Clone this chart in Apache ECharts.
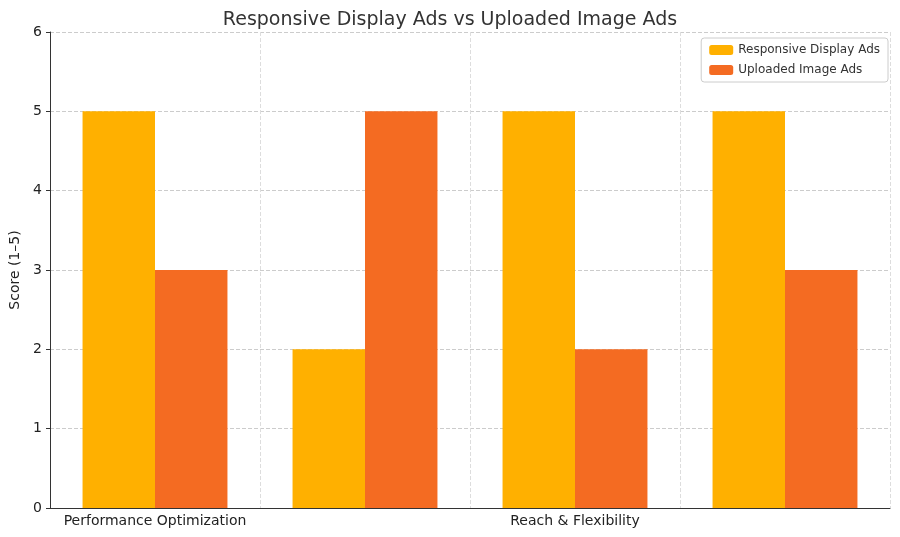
<!DOCTYPE html>
<html><head><meta charset="utf-8">
<script src="https://cdn.jsdelivr.net/npm/echarts@6/dist/echarts.min.js"></script>
<style>html,body{margin:0;padding:0;background:#fff}#c{width:900px;height:537px}</style>
</head><body><div id="c"></div>
<script>
const categories = ["Performance Optimization","Design Control","Reach & Flexibility","Ease of Setup"];
const responsive = [5,2,5,5];
const uploaded = [3,5,2,3];
const seriesNames = ["Responsive Display Ads","Uploaded Image Ads"];
const chart = echarts.init(document.getElementById('c'));
const font = "DejaVu Sans";
chart.setOption({
  animation:false,
  title:{text:"Responsive Display Ads vs Uploaded Image Ads",left:'center',top:6,textStyle:{fontFamily:font,fontSize:19,fontWeight:'normal',color:'#333'}},
  legend:{top:38,right:12,orient:'vertical',itemWidth:24,itemHeight:10,itemGap:8,borderColor:'#ccc',borderWidth:1,borderRadius:3,padding:[6,8],
    textStyle:{fontFamily:font,fontSize:12,color:'#333'},data:seriesNames},
  grid:{left:44,right:10,top:32,bottom:29,containLabel:false},
  xAxis:{type:'category',data:categories,axisTick:{show:false},
    axisLine:{lineStyle:{color:'#333'}},
    axisLabel:{fontFamily:font,fontSize:14,color:'#222',margin:6},
    splitLine:{show:true,interval:0,lineStyle:{type:'dashed',color:'#ddd'}}},
  yAxis:{type:'value',min:0,max:6,interval:1,name:'Score (1–5)',nameLocation:'middle',nameGap:28,
    nameTextStyle:{fontFamily:font,fontSize:14,color:'#222'},
    axisLine:{show:true,lineStyle:{color:'#333'}},axisTick:{show:true,length:4},
    axisLabel:{fontFamily:font,fontSize:14,color:'#222'},
    splitLine:{lineStyle:{type:'dashed',color:'#ccc'}}},
  series:[
    {name:seriesNames[0],type:'bar',data:responsive,itemStyle:{color:'#FFB000'},barGap:'0%',barCategoryGap:'31%'},
    {name:seriesNames[1],type:'bar',data:uploaded,itemStyle:{color:'#F46B22'}}
  ]
});
</script></body></html>
